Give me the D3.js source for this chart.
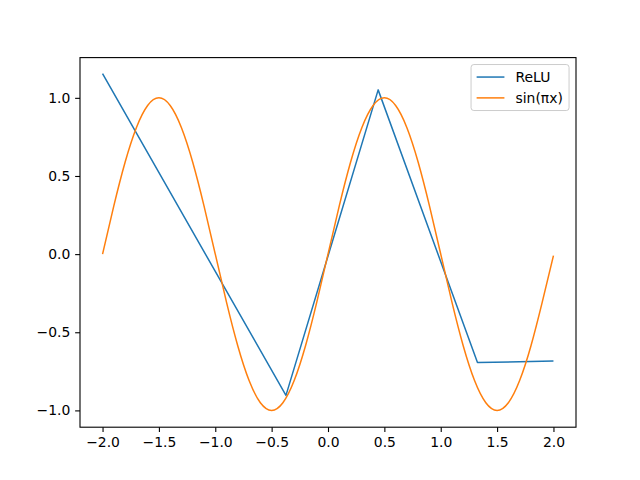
<!DOCTYPE html>
<html>
<head>
<meta charset="utf-8">
<script src="https://cdn.jsdelivr.net/npm/d3@7"></script>
<style>
  body { margin: 0; background: #fff; }
  svg { display: block; font-family: "DejaVu Sans", sans-serif; }
</style>
</head>
<body>
<div id="chart"></div>
<script>
// ReLU fit: corner points
const reluX = [-2.0, -0.373, 0.445, 1.326, 2.0];
const reluY = [1.155, -0.904, 1.051, -0.694, -0.684];

// sin(pi x) sampled every 0.1 from the picture
const sinX = d3.range(41).map(i => -2 + i * 0.1);
const sinY = [0, 0.309, 0.588, 0.809, 0.951, 1, 0.951, 0.809, 0.588, 0.309,
              0, -0.309, -0.588, -0.809, -0.951, -1, -0.951, -0.809, -0.588, -0.309,
              0, 0.309, 0.588, 0.809, 0.951, 1, 0.951, 0.809, 0.588, 0.309,
              0, -0.309, -0.588, -0.809, -0.951, -1, -0.951, -0.809, -0.588, -0.309,
              -0.01];

const xTicks = [-2.0, -1.5, -1.0, -0.5, 0.0, 0.5, 1.0, 1.5, 2.0];
const yTicks = [-1.0, -0.5, 0.0, 0.5, 1.0];
const seriesNames = ["ReLU", "sin(\u03c0x)"];
const colors = ["#1f77b4", "#ff7f0e"];

const width = 640, height = 480;
const margin = {left: 80, right: 64, top: 57.6, bottom: 52.8};
const fs = 13.9;

const svg = d3.select("#chart").append("svg")
    .attr("width", width)
    .attr("height", height);

const x = d3.scaleLinear().domain([-2.2, 2.2]).range([margin.left, width - margin.right]);
const y = d3.scaleLinear().domain([-1.1075, 1.2575]).range([height - margin.bottom, margin.top]);

const fmt = d3.format(".1f");
const minus = s => s.replace("-", "\u2212");

const xAxis = svg.append("g")
    .attr("transform", `translate(0,${height - margin.bottom})`)
    .call(d3.axisBottom(x).tickValues(xTicks).tickFormat(d => minus(fmt(d))).tickSize(4.86).tickPadding(4.86));
const yAxis = svg.append("g")
    .attr("transform", `translate(${margin.left},0)`)
    .call(d3.axisLeft(y).tickValues(yTicks).tickFormat(d => minus(fmt(d))).tickSize(4.86).tickPadding(4.86));

[xAxis, yAxis].forEach(g => {
    g.select(".domain").remove();
    g.selectAll(".tick line").attr("stroke", "#000").attr("stroke-width", 1.1);
    g.selectAll(".tick text").attr("fill", "#000").style("font-size", fs + "px")
        .style("font-family", "DejaVu Sans");
});

const line = d3.line().x(d => x(d[0])).y(d => y(d[1]));

svg.append("path")
    .datum(reluX.map((v, i) => [v, reluY[i]]))
    .attr("fill", "none")
    .attr("stroke", colors[0])
    .attr("stroke-width", 1.5)
    .attr("stroke-linejoin", "round")
    .attr("d", line);

svg.append("path")
    .datum(sinX.map((v, i) => [v, sinY[i]]))
    .attr("fill", "none")
    .attr("stroke", colors[1])
    .attr("stroke-width", 1.5)
    .attr("d", line.curve(d3.curveNatural));

// frame
svg.append("rect")
    .attr("x", margin.left)
    .attr("y", margin.top)
    .attr("width", width - margin.left - margin.right)
    .attr("height", height - margin.top - margin.bottom)
    .attr("fill", "none")
    .attr("stroke", "#000")
    .attr("stroke-width", 1.1);

// legend
const lgRight = width - margin.right - 6.94, lgTop = margin.top + 6.94;
const lgW = 98, lgH = 46;
const legend = svg.append("g").attr("transform", `translate(${lgRight - lgW},${lgTop})`);
legend.append("rect")
    .attr("width", lgW).attr("height", lgH)
    .attr("rx", 2.8)
    .attr("fill", "#fff").attr("fill-opacity", 0.8)
    .attr("stroke", "#ccc").attr("stroke-width", 1);

seriesNames.forEach((name, i) => {
    const cy = 5.56 + fs / 2 + i * (fs + 6.94);
    legend.append("line")
        .attr("x1", 5.56).attr("x2", 5.56 + 27.8)
        .attr("y1", cy).attr("y2", cy)
        .attr("stroke", colors[i]).attr("stroke-width", 1.5);
    legend.append("text")
        .attr("x", 5.56 + 27.8 + 11.1)
        .attr("y", cy)
        .attr("dy", "0.35em")
        .style("font-size", fs + "px")
        .text(name);
});
</script>
</body>
</html>
